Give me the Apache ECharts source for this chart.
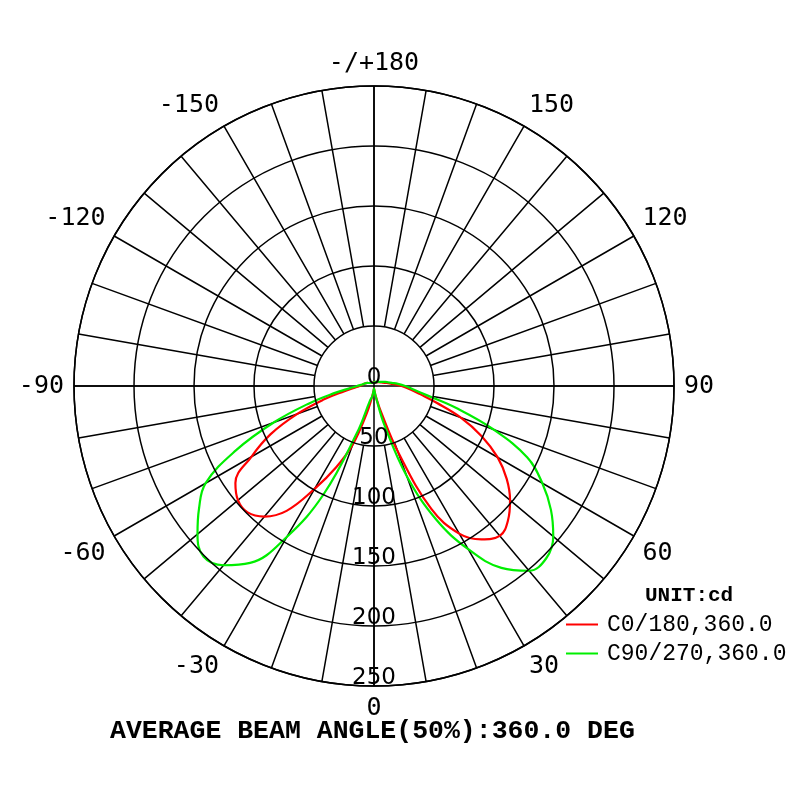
<!DOCTYPE html>
<html>
<head>
<meta charset="utf-8">
<script src="https://cdn.jsdelivr.net/npm/echarts@6/dist/echarts.min.js"></script>
<style>
  html, body { margin: 0; padding: 0; background: #fff; }
  #main { width: 800px; height: 800px; }
</style>
</head>
<body>
<div id="main"></div>
<script>
// gamma angles (deg) for each half plane
const gamma = [0, 5, 10, 15, 20, 25, 30, 35, 40, 45, 50, 55, 60, 65, 70, 75, 80, 85, 90,
  95, 100, 105, 110, 115, 120, 125, 130, 135, 140, 145, 150, 155, 160, 165, 170, 175, 180];
// intensities in cd
const c0 = [2, 4, 9, 22, 58, 113, 142, 156, 163, 158, 148, 135, 119, 99, 77, 54, 39, 30, 23,
  17, 13, 10, 8, 7, 6, 5, 5, 4, 4, 4, 4, 3, 3, 3, 3, 3, 3];
const c180 = [2, 4, 9, 24, 52, 75, 99, 127, 142, 149, 148, 141, 118, 95, 68, 43, 25, 16, 12,
  10, 9, 8, 7, 6, 5, 5, 4, 4, 4, 4, 3, 3, 3, 3, 3, 3, 3];
const c90 = [2, 4, 10, 34, 80, 123, 157, 185, 201, 203, 195, 180, 162, 141, 106, 71, 45, 33, 26,
  20, 15, 12, 10, 8, 7, 6, 5, 5, 4, 4, 4, 4, 3, 3, 3, 3, 3];
const c270 = [2, 4, 9, 12, 42, 100, 145, 180, 195, 201, 192, 178, 162, 127, 89, 56, 33, 20, 14,
  11, 9, 8, 7, 6, 5, 5, 4, 4, 4, 4, 3, 3, 3, 3, 3, 3, 3];
const seriesNames = ['C0/180,360.0', 'C90/270,360.0'];
const radiusMax = 250;

// right half-plane uses angle as is, left half-plane mirrored to 360 - gamma
function loop(right, left) {
  const pts = [];
  for (let i = gamma.length - 1; i >= 0; i--) pts.push([right[i], gamma[i]]);
  for (let i = 1; i < gamma.length; i++) pts.push([left[i], 360 - gamma[i]]);
  return pts;
}

const chart = echarts.init(document.getElementById('main'));
const center = [374, 386];
const gridLine = { color: '#000', width: 1.5 };

const option = {
  animation: false,
  title: [
    {
      text: 'AVERAGE BEAM ANGLE(50%):360.0 DEG',
      left: 105, top: 713,
      textStyle: { fontFamily: 'Liberation Mono', fontWeight: 'bold', fontSize: 26.5, color: '#000' }
    },
    {
      text: 'UNIT:cd',
      left: 640, top: 580,
      textStyle: { fontFamily: 'Liberation Mono', fontWeight: 'bold', fontSize: 21, color: '#000' }
    }
  ],
  legend: {
    data: seriesNames,
    orient: 'vertical',
    left: 561, top: 608,
    icon: 'rect',
    itemWidth: 32, itemHeight: 2,
    itemGap: 6,
    textStyle: { fontFamily: 'Liberation Mono', fontSize: 23, color: '#000', padding: [0, 0, 0, 4] }
  },
  polar: [
    { center: center, radius: [0, 300] },
    { center: center, radius: [0, 300] },
    { center: center, radius: [60, 300] }
  ],
  angleAxis: [
    {
      polarIndex: 0, type: 'value', min: 0, max: 360, interval: 30,
      startAngle: 270, clockwise: false,
      axisLine: { show: true, lineStyle: gridLine },
      axisTick: { show: false },
      splitLine: { show: false },
      axisLabel: {
        margin: 10, color: '#000', fontFamily: 'DejaVu Sans Mono', fontSize: 25,
        formatter: function (v) {
          if (v === 360) return '';
          if (v === 180) return '-/+180';
          return v > 180 ? String(v - 360) : String(v);
        }
      }
    },
    {
      polarIndex: 1, type: 'value', min: 0, max: 360, interval: 90,
      startAngle: 270, clockwise: false,
      axisLine: { show: false }, axisTick: { show: false }, axisLabel: { show: false },
      splitLine: { show: true, lineStyle: gridLine }
    },
    {
      polarIndex: 2, type: 'value', min: 0, max: 360, interval: 10,
      startAngle: 270, clockwise: false,
      axisLine: { show: false }, axisTick: { show: false }, axisLabel: { show: false },
      splitLine: { show: true, lineStyle: gridLine }
    }
  ],
  radiusAxis: [
    {
      polarIndex: 0, type: 'value', min: 0, max: radiusMax, interval: 50,
      axisLine: { show: false }, axisTick: { show: false },
      splitLine: { show: true, lineStyle: gridLine },
      axisLabel: {
        margin: 0, align: 'center', verticalAlign: 'bottom',
        lineHeight: 15,
        color: '#000', fontFamily: 'DejaVu Sans', fontSize: 23
      },
      z: 5
    },
    { polarIndex: 1, type: 'value', min: 0, max: radiusMax, show: false },
    { polarIndex: 2, type: 'value', min: 0, max: radiusMax, show: false }
  ],
  series: [
    {
      name: seriesNames[0], type: 'line', coordinateSystem: 'polar', polarIndex: 0,
      data: loop(c0, c180), symbol: 'none', smooth: 0.4,
      lineStyle: { color: '#ff0000', width: 2.2 }, itemStyle: { color: '#ff0000' }
    },
    {
      name: seriesNames[1], type: 'line', coordinateSystem: 'polar', polarIndex: 0,
      data: loop(c90, c270), symbol: 'none', smooth: 0.4,
      lineStyle: { color: '#00ee00', width: 2.2 }, itemStyle: { color: '#00ee00' }
    }
  ]
};

chart.setOption(option);
</script>
</body>
</html>
